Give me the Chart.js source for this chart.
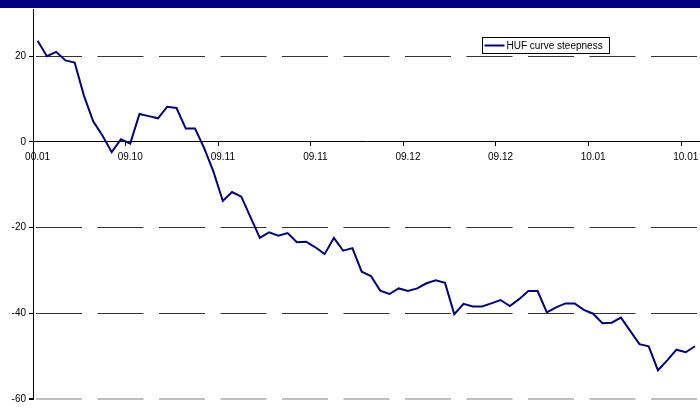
<!DOCTYPE html>
<html>
<head>
<meta charset="utf-8">
<script src="https://cdn.jsdelivr.net/npm/chart.js@4/dist/chart.umd.min.js"></script>
<style>
  html, body { margin: 0; padding: 0; background: #ffffff; overflow: hidden; }
  #wrap { position: relative; width: 700px; height: 408px; }
  #topbar { position: absolute; left: 0; top: 0; width: 700px; height: 8px; background: #000080; z-index: 2; }
  canvas { position: absolute; left: 0; top: 0; }
</style>
</head>
<body>
<div id="wrap">
  <div id="topbar"></div>
  <canvas id="c" width="700" height="408"></canvas>
</div>
<script>
// ---- data ----
const seriesName = 'HUF curve steepness';
const tickLabels = ['00.01', '09.10', '09.11', '09.11', '09.12', '09.12', '10.01', '10.01'];
const labelEvery = 10;
const steepness = [
  23.6, 20.0, 21.0, 19.0, 18.5, 10.8, 4.8, 1.5, -2.4, 0.6,
  -0.4, 6.5, 6.0, 5.5, 8.2, 7.9, 3.1, 3.1, -1.5, -7.0,
  -13.8, -11.7, -12.8, -17.6, -22.4, -21.1, -21.9, -21.3, -23.4, -23.3,
  -24.6, -26.2, -22.4, -25.4, -24.8, -30.3, -31.3, -34.7, -35.5, -34.2,
  -34.8, -34.2, -33.0, -32.3, -32.9, -40.2, -37.8, -38.4, -38.4, -37.7,
  -36.9, -38.3, -36.7, -34.8, -34.8, -39.8, -38.6, -37.7, -37.7, -39.2,
  -40.1, -42.3, -42.2, -41.0, -44.1, -47.2, -47.7, -53.3, -51.0, -48.5,
  -49.1, -47.7
];
const yMin = -60, yMax = 31, yStep = 20;

// category labels built from the tick labels
const categories = steepness.map((v, i) =>
  (i % labelEvery === 0 && tickLabels[i / labelEvery] !== undefined) ? tickLabels[i / labelEvery] : '');

const FONT = 'Liberation Sans, Arial, sans-serif';

const legendBox = {
  id: 'legendBox',
  afterDraw(chart) {
    const ctx = chart.ctx;
    const ds = chart.data.datasets[0];
    const x = 482.5, y = 37.5, w = 127, h = 16;
    ctx.save();
    ctx.fillStyle = '#ffffff';
    ctx.fillRect(x, y, w, h);
    ctx.strokeStyle = '#000000';
    ctx.lineWidth = 1;
    ctx.strokeRect(x, y, w, h);
    ctx.strokeStyle = ds.borderColor;
    ctx.lineWidth = 2;
    ctx.beginPath();
    ctx.moveTo(x + 2, y + 8);
    ctx.lineTo(x + 22, y + 8);
    ctx.stroke();
    ctx.fillStyle = '#000000';
    ctx.font = '10px ' + FONT;
    ctx.textBaseline = 'middle';
    ctx.textAlign = 'left';
    ctx.fillText(ds.label, x + 24, y + 8.5);
    ctx.restore();
  }
};

new Chart(document.getElementById('c'), {
  type: 'line',
  data: {
    labels: categories,
    datasets: [{
      label: seriesName,
      data: steepness,
      borderColor: '#000080',
      borderWidth: 2,
      pointRadius: 0,
      pointHoverRadius: 0,
      tension: 0,
      fill: false
    }]
  },
  options: {
    responsive: false,
    animation: false,
    devicePixelRatio: 1,
    layout: { padding: { top: 8, bottom: 9, left: 0, right: 0 } },
    plugins: { legend: { display: false }, tooltip: { enabled: false } },
    scales: {
      x: {
        type: 'category',
        position: { y: 0 },
        offset: true,
        afterFit: (s) => { s.height = 0; },
        grid: {
          display: true,
          offset: true,
          drawOnChartArea: false,
          drawTicks: true,
          tickLength: 4,
          tickColor: (c) => (c.index % labelEvery === 0 ? '#000000' : 'rgba(0,0,0,0)')
        },
        border: { display: true, color: '#000000', width: 1 },
        ticks: {
          autoSkip: false,
          maxRotation: 0,
          minRotation: 0,
          padding: 5,
          color: '#000000',
          font: { family: FONT, size: 10 }
        }
      },
      y: {
        min: yMin,
        max: yMax,
        afterFit: (s) => { s.width = 33; },
        grid: {
          color: (c) => {
            const v = c.tick ? c.tick.value : null;
            if (v === 0) return 'rgba(0,0,0,0)';
            if (v === yMin) return '#c0c0c0';
            return '#333333';
          },
          lineWidth: (c) => (c.tick && c.tick.value === yMin ? 2 : 1),
          tickLength: 4,
          tickColor: '#000000'
        },
        border: { display: true, color: '#000000', width: 1, dash: [46, 15.5], dashOffset: 59.5 },
        ticks: {
          stepSize: yStep,
          includeBounds: false,
          padding: 3,
          color: '#000000',
          font: { family: FONT, size: 10 }
        }
      }
    }
  },
  plugins: [legendBox]
});
</script>
</body>
</html>
